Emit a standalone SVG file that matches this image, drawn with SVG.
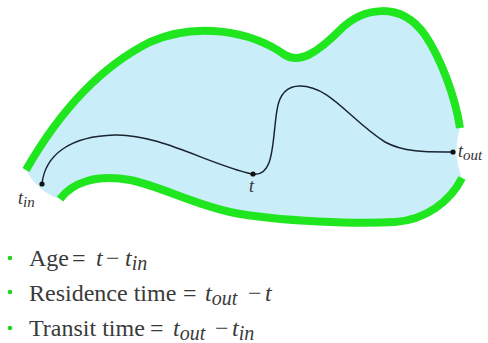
<svg xmlns="http://www.w3.org/2000/svg" width="488" height="343" viewBox="0 0 488 343">
<style>
.wall{fill:none;stroke:#20e620;stroke-width:8;stroke-linecap:butt;stroke-linejoin:round}
.fill{fill:#c9eef9;stroke:none}
.traj{fill:none;stroke:#1a2430;stroke-width:1.5}
.dot{fill:#111}
.lbl{font-family:'Liberation Serif','DejaVu Serif',serif;fill:#333;font-style:italic}
.leg{font-family:'Liberation Serif','DejaVu Serif',serif;fill:#3a3a3a;font-size:24px}
.it{font-style:italic}
.sub{font-style:italic;font-size:20px}
.bul{fill:#22d422}
</style>
<rect width="488" height="343" fill="#ffffff"/>
<g id="vessel">
<path class="fill" d="M26,170 C50,128 90,72 150,42 C195,22 250,30 285,55 C300,64 318,52 340,30 C362,8 400,0 425,35 C440,57 455,95 460,128 Q452,153 462,178 C450,202 425,220 395,222 C360,224 280,222 230,212 C190,203 160,186 130,180 C95,174 72,183 60,199 Q38,192 26,170 Z"/>
<path id="upper-wall" class="wall" d="M26,170 C50,128 90,72 150,42 C195,22 250,30 285,55 C300,64 318,52 340,30 C362,8 400,0 425,35 C440,57 455,95 460,128"/>
<path id="lower-wall" class="wall" d="M60,199 C72,183 95,174 130,180 C160,186 190,203 230,212 C280,222 360,224 395,222 C425,220 450,202 462,178"/>
</g>
<g id="connectors">
<path class="traj" d="M42,184 C45,155 70,136 115,135 C160,134 210,165 252,174 C275,178 272,140 277,110 C280,90 290,86 300,86 C330,86 350,120 385,142 C405,153 430,152 453,152"/>
</g>
<g id="node-tin">
<circle class="dot" cx="42" cy="184" r="2.6"/>
<text class="lbl" x="18" y="204" font-size="18">t<tspan font-size="15" dy="3">in</tspan></text>
</g>
<g id="node-t">
<circle class="dot" cx="253" cy="174" r="2.6"/>
<text class="lbl" x="249" y="192" font-size="18">t</text>
</g>
<g id="node-tout">
<circle class="dot" cx="453" cy="152" r="2.6"/>
<text class="lbl" x="458" y="157" font-size="18">t<tspan font-size="15" dy="3">out</tspan></text>
</g>
<g id="legend">
<circle class="bul" cx="10" cy="258" r="2.3"/>
<text class="leg" x="29" y="266">Age<tspan x="72">=</tspan><tspan class="it" x="96">t</tspan><tspan x="106">−</tspan><tspan class="it" x="125">t</tspan><tspan class="sub" dy="4">in</tspan></text>
<circle class="bul" cx="10" cy="292" r="2.3"/>
<text class="leg" x="29" y="301">Residence time<tspan x="183">=</tspan><tspan class="it" x="205">t</tspan><tspan class="sub" dy="4">out</tspan><tspan x="248" dy="-4">−</tspan><tspan class="it" x="265">t</tspan></text>
<circle class="bul" cx="10" cy="328" r="2.3"/>
<text class="leg" x="29" y="336">Transit time<tspan x="150">=</tspan><tspan class="it" x="173">t</tspan><tspan class="sub" dy="4">out</tspan><tspan x="215" dy="-4">−</tspan><tspan class="it" x="232">t</tspan><tspan class="sub" dy="4">in</tspan></text>
</g>
</svg>
